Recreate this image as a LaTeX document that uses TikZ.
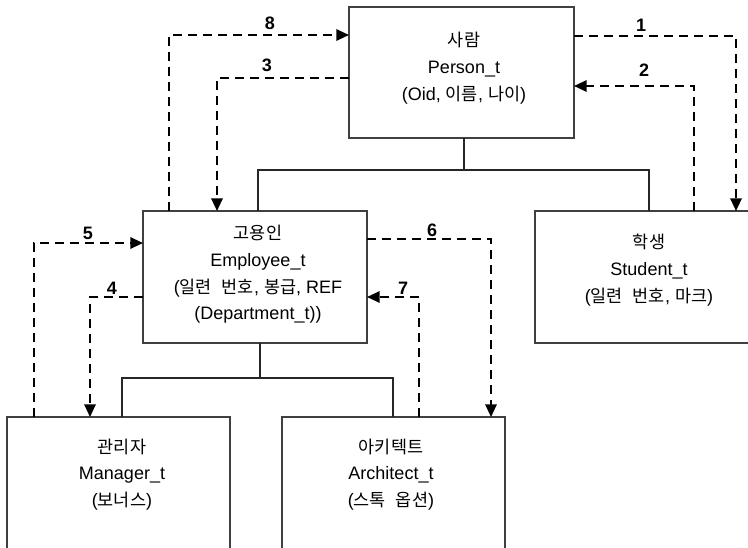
\documentclass[tikz,border=0pt]{standalone}
\usepackage{fontspec}
\setmainfont{Liberation Sans}
\newfontfamily\krfont{Noto Sans CJK KR}[Scale=0.97]
\newcommand\hangul[1]{{\krfont #1}}
\newcommand\krsp{\hspace{7.5pt}}
\usetikzlibrary{arrows.meta}
\tikzset{
  box/.style={draw=black!75, line width=1.1pt, rectangle, inner sep=0pt, outer sep=0pt,
              minimum width=168pt, minimum height=99pt},
  boxtext/.style={align=center, inner sep=0pt, font=\fontsize{13.5}{20}\selectfont},
  tree/.style={draw=black!85, line width=1.1pt},
  dep/.style={draw=black, line width=1.5pt, dash pattern=on 6.75pt off 4.5pt,
              -{Triangle[length=9.5pt,width=8.5pt]}},
  lab/.style={inner sep=0pt, font=\fontsize{13.5}{16}\selectfont\bfseries}
}
\begin{document}
\begin{tikzpicture}[x=0.75pt,y=-0.75pt]
\useasboundingbox (0,0) rectangle (748,547);
\clip (0,0) rectangle (748,547);
\fill[white] (0,0) rectangle (748,547);
% boxes
\node[box, minimum width=168.75pt, minimum height=98.25pt] (person) at (461.5,72.5) {};
\node[box] (employee) at (255,277) {};
\node[box] (student) at (647,277) {};
\node[box, minimum width=167.25pt] (manager) at (118.5,483) {};
\node[box, minimum width=167.25pt] (architect) at (393.5,483) {};
% texts
\node[boxtext] (personT) at (464,68) {\hangul{사람}\\Person\_t\\(Oid, \hangul{이름}, \hangul{나이})};
\node[boxtext] (employeeT) at (258,274.5) {\hangul{고용인}\\Employee\_t\\(\hangul{일련\krsp 번호}, \hangul{봉급}, REF\\(Department\_t))};
\node[boxtext] (studentT) at (649,270) {\hangul{학생}\\Student\_t\\(\hangul{일련\krsp 번호}, \hangul{마크})};
\node[boxtext] (managerT) at (122,474.5) {\hangul{관리자}\\Manager\_t\\(\hangul{보너스})};
\node[boxtext] (architectT) at (391,474.5) {\hangul{아키텍트}\\Architect\_t\\(\hangul{스톡\krsp 옵션})};
% tree coordinates
\coordinate (t1) at (464,170);
\coordinate (t1l) at (258,170);
\coordinate (t1r) at (649,170);
\coordinate (t2) at (260,378);
\coordinate (t2l) at (122,378);
\coordinate (t2r) at (393,378);
\draw[tree] (person.south -| t1) -- (t1);
\draw[tree] (employee.north -| t1l) -- (t1l) -- (t1r) -- (student.north -| t1r);
\draw[tree] (employee.south -| t2) -- (t2);
\draw[tree] (manager.north -| t2l) -- (t2l) -- (t2r) -- (architect.north -| t2r);
% dashed connectors
\coordinate (c1) at (736,36);
\coordinate (c2) at (694,86);
\coordinate (c3) at (217,78);
\coordinate (c8) at (169,35);
\coordinate (c5) at (34,243);
\coordinate (c4) at (90,297);
\coordinate (c6) at (491,239);
\coordinate (c7) at (419,297);
\draw[dep] (person.east |- c1) -| (student.north -| c1);
\draw[dep] (student.north -| c2) |- (person.east |- c2);
\draw[dep] (person.west |- c3) -| (employee.north -| c3);
\draw[dep] (employee.north -| c8) |- (person.west |- c8);
\draw[dep] (manager.north -| c5) |- (employee.west |- c5);
\draw[dep] (employee.west |- c4) -| (manager.north -| c4);
\draw[dep] (employee.east |- c6) -| (architect.north -| c6);
\draw[dep] (architect.north -| c7) |- (employee.east |- c7);
% labels
\node[lab] (l1) at (641,25) {1};
\node[lab] (l2) at (644,70) {2};
\node[lab] (l3) at (267,65) {3};
\node[lab] (l8) at (270,23.5) {8};
\node[lab] (l5) at (88,233) {5};
\node[lab] (l4) at (112,288) {4};
\node[lab] (l6) at (432,230) {6};
\node[lab] (l7) at (403,288) {7};
\end{tikzpicture}
\end{document}
